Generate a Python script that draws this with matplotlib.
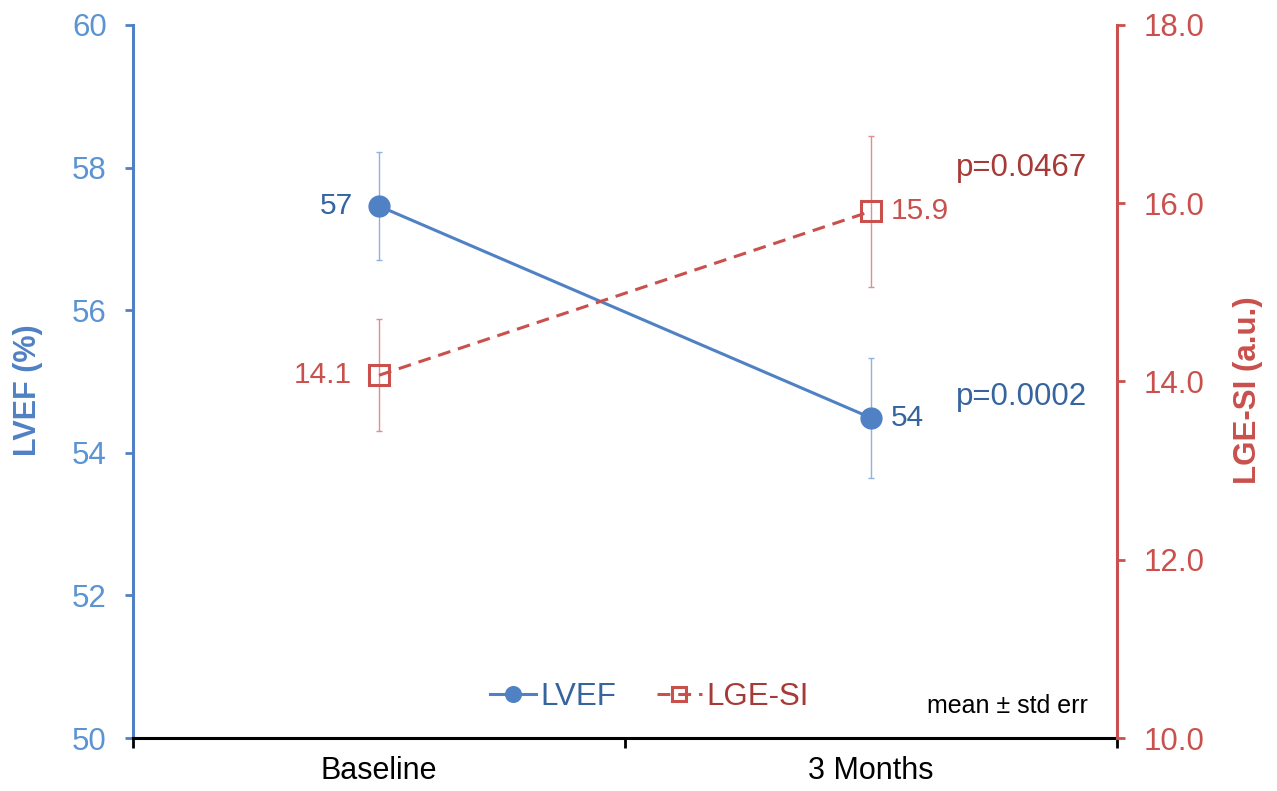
import numpy as np
import matplotlib.pyplot as plt

plt.rcParams['font.family'] = ['Liberation Sans', 'DejaVu Sans']

categories = ["Baseline", "3 Months"]
lvef = [57.46, 54.49]
lvef_err = [0.76, 0.84]
lvef_labels = ["57", "54"]
lge = [14.07, 15.91]
lge_err = [0.63, 0.85]
lge_labels = ["14.1", "15.9"]
p_lvef = "p=0.0002"
p_lge = "p=0.0467"

blue = "#4F81C4"
blue_tick = "#5B93D3"
blue_dark = "#35649E"
red = "#C9504C"
red_dark = "#A63A37"

x = np.arange(len(categories))

fig, ax = plt.subplots(figsize=(12.77, 7.91), dpi=100)
fig.subplots_adjust(left=0.1042, right=0.8747, top=0.9684, bottom=0.067)
ax2 = ax.twinx()

# error bars (thin, light)
ax.errorbar(x, lvef, yerr=lvef_err, fmt="none", ecolor="#8FB2DE", elinewidth=1.0,
            capsize=2.5, capthick=1.0, zorder=2)
ax2.errorbar(x, lge, yerr=lge_err, fmt="none", ecolor="#E08E8B", elinewidth=1.0,
             capsize=2.5, capthick=1.0, zorder=2)

l1, = ax.plot(x, lvef, color=blue, lw=2.2, marker="o", ms=15, label="LVEF", zorder=3)
l2, = ax2.plot(x, lge, color=red, lw=2.2, ls=(0, (4.2, 2.6)), marker="s", ms=14,
               mfc="none", mew=2.2, label="LGE-SI", zorder=3)

# data labels
fs = 21.5
ax.text(x[0] - 0.053, lvef[0], lvef_labels[0], ha="right", va="center", fontsize=fs, color=blue_dark)
ax.text(x[1] + 0.04, lvef[1], lvef_labels[1], ha="left", va="center", fontsize=fs, color=blue_dark)
ax2.text(x[0] - 0.055, lge[0], lge_labels[0], ha="right", va="center", fontsize=fs, color=red)
ax2.text(x[1] + 0.04, lge[1], lge_labels[1], ha="left", va="center", fontsize=fs, color=red)

ax.text(1.44, 54.78, p_lvef, ha="right", va="center", fontsize=22.5, color=blue_dark)
ax2.text(1.44, 16.40, p_lge, ha="right", va="center", fontsize=22.5, color=red_dark)

ax.text(1.44, 50.45, "mean ± std err", ha="right", va="center", fontsize=18,
        family=["Liberation Sans Narrow", "Liberation Sans"], color="black")

# axes
ax.set_xlim(-0.5, 1.5)
ax.set_ylim(50, 60)
ax2.set_ylim(10, 18)
ax.set_yticks(np.arange(50, 61, 2))
ax2.set_yticks(np.arange(10, 18.1, 2))
ax2.set_yticklabels(["%.1f" % v for v in np.arange(10, 18.1, 2)])

ax.set_xticks([-0.5, 0.5, 1.5])
ax.set_xticklabels([])
ax.set_xticks(x, minor=True)
ax.set_xticklabels(categories, minor=True)
ax.tick_params(axis="x", which="major", direction="out", length=7, width=2, color="black")
ax.tick_params(axis="x", which="minor", length=0, labelsize=22, pad=13, labelcolor="black")

ax.tick_params(axis="y", direction="out", length=6, width=2, color=blue, labelcolor=blue_tick,
               labelsize=22.5, pad=13)
ax2.tick_params(axis="y", direction="out", length=6, width=2, color=red, labelcolor=red,
                labelsize=22.5, pad=13)

for s in ["top", "right"]:
    ax.spines[s].set_visible(False)
ax.spines["left"].set_color(blue)
ax.spines["left"].set_linewidth(2.2)
ax.spines["bottom"].set_color("black")
ax.spines["bottom"].set_linewidth(2.2)
for s in ["top", "left", "bottom"]:
    ax2.spines[s].set_visible(False)
ax2.spines["right"].set_color(red)
ax2.spines["right"].set_linewidth(2.2)

ax.set_ylabel("LVEF (%)", fontsize=22, fontweight="bold", color=blue)
ax.yaxis.set_label_coords(-0.092, 0.488)
ax2.set_ylabel("LGE-SI (a.u.)", fontsize=22.5, fontweight="bold", color=red)
ax2.yaxis.set_label_coords(1.118, 0.488)

leg = ax2.legend(handles=[l1, l2], loc="center", bbox_to_anchor=(0.525, 0.058), ncol=2,
                 frameon=False, fontsize=22.5, handlelength=1.45, handletextpad=0.15,
                 columnspacing=1.3, markerscale=0.75, labelcolor=[blue_dark, red_dark])

fig.savefig("out.png", dpi=100)
